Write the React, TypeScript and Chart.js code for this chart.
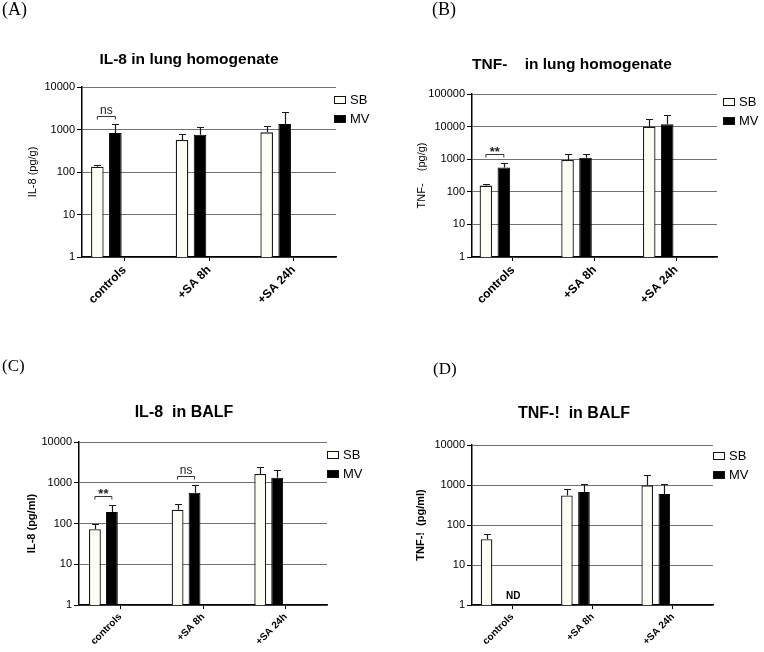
import React, { useEffect, useRef } from 'react';
import { Chart, registerables } from 'chart.js';

Chart.register(...registerables);

// ---------- data ----------
const categories = ['controls', '+SA 8h', '+SA 24h'];
const seriesNames = ['SB', 'MV'];

// (A) IL-8 in lung homogenate, pg/g
const lungIL8SB = [133, 566, 857];
const lungIL8SBUpper = [148, 771, 1190];
const lungIL8MV = [828, 755, 1349];
const lungIL8MVUpper = [1370, 1125, 2520];

// (B) TNF- in lung homogenate, pg/g
const lungTNFSB = [155, 945, 10000];
const lungTNFSBUpper = [172, 1440, 17260];
const lungTNFMV = [560, 1110, 11760];
const lungTNFMVUpper = [760, 1430, 22300];

// (C) IL-8 in BALF, pg/ml
const balfIL8SB = [72, 218, 1650];
const balfIL8SBUpper = [96, 300, 2400];
const balfIL8MV = [191, 566, 1320];
const balfIL8MVUpper = [279, 859, 2030];

// (D) TNF- in BALF, pg/ml (MV controls not detected)
const balfTNFSB = [44, 550, 980];
const balfTNFSBUpper = [58, 800, 1810];
const balfTNFMV = [null, 668, 596];
const balfTNFMVUpper = [null, 1035, 1060];

const yTicks4 = [1, 10, 100, 1000, 10000];
const yTicks5 = [1, 10, 100, 1000, 10000, 100000];

// significance annotations: category index, bracket level (data value), label
const bracketsA = [{ cat: 0, value: 2090, label: 'ns' }];
const bracketsB = [{ cat: 0, value: 1480, label: '**' }];
const bracketsC = [
  { cat: 0, value: 478, label: '**' },
  { cat: 1, value: 1475, label: 'ns' },
];
const bracketsD: { cat: number; value: number; label: string }[] = [];
const ndCatsD = [0];

const SANS = '"Liberation Sans", Arial, Helvetica, sans-serif';
const SERIF = '"Liberation Serif", "Times New Roman", serif';

type Bracket = { cat: number; value: number; label: string };
type PanelProps = {
  box: { left: number; top: number; width: number; height: number };
  plot: { left: number; right: number; top: number; bottom: number };
  yTicks: number[];
  sb: (number | null)[];
  sbUpper: (number | null)[];
  mv: (number | null)[];
  mvUpper: (number | null)[];
  yTitle: string;
  yTitleBold: boolean;
  yTitleX: number;
  xFont: number;
  cat: number;
  bar: number;
  legendDx: number;
  legendDy: number;
  brackets: Bracket[];
  ndCats: number[];
};

function Panel(p: PanelProps) {
  const ref = useRef<HTMLCanvasElement>(null);
  useEffect(() => {
    const canvas = ref.current!;
    const b = p.box;
    const pl = p.plot;
    const padTop = pl.top - b.top;
    const padRight = b.left + b.width - pl.right;
    const yWidth = pl.left - b.left;
    const xHeight = b.top + b.height - pl.bottom;
    const yTitleSize = 11;
    const yTitlePad = p.yTitleX - b.left - (yTitleSize * 1.2) / 2;

    const overlay = {
      id: 'overlay',
      afterDatasetsDraw(chart: any) {
        const ctx = chart.ctx;
        const ys = chart.scales.y;
        const xs = chart.scales.x;
        ctx.save();
        // error bars (upper only)
        const pairs: [(number | null)[], (number | null)[]][] = [
          [p.sb, p.sbUpper],
          [p.mv, p.mvUpper],
        ];
        pairs.forEach(([vals, ups], di) => {
          const meta = chart.getDatasetMeta(di);
          meta.data.forEach((el: any, j: number) => {
            const v = vals[j];
            const u = ups[j];
            if (v == null || u == null) return;
            const x = Math.round(el.x) + 0.5;
            const y0 = ys.getPixelForValue(v);
            const y1 = Math.round(ys.getPixelForValue(u)) + 0.5;
            ctx.strokeStyle = '#1a1a1a';
            ctx.lineWidth = 1.2;
            ctx.beginPath();
            ctx.moveTo(x, y0);
            ctx.lineTo(x, y1);
            ctx.moveTo(x - 3.5, y1);
            ctx.lineTo(x + 3.5, y1);
            ctx.stroke();
          });
        });
        // significance brackets
        p.brackets.forEach((bk) => {
          const x0 = chart.getDatasetMeta(0).data[bk.cat].x;
          const x1 = chart.getDatasetMeta(1).data[bk.cat].x;
          const y = Math.round(ys.getPixelForValue(bk.value)) + 0.5;
          ctx.strokeStyle = '#333';
          ctx.lineWidth = 1;
          ctx.beginPath();
          ctx.moveTo(x0, y + 3);
          ctx.lineTo(x0, y);
          ctx.lineTo(x1, y);
          ctx.lineTo(x1, y + 3);
          ctx.stroke();
          ctx.fillStyle = '#222';
          ctx.font = bk.label === '**' ? `bold 13px ${SANS}` : `12px ${SANS}`;
          ctx.textAlign = 'center';
          ctx.textBaseline = 'alphabetic';
          ctx.fillText(bk.label, (x0 + x1) / 2, bk.label === '**' ? y + 1 : y - 3);
        });
        // not detected
        p.ndCats.forEach((c) => {
          ctx.fillStyle = '#000';
          ctx.font = `bold 10px ${SANS}`;
          ctx.textAlign = 'center';
          ctx.textBaseline = 'middle';
          ctx.fillText('ND', xs.getPixelForValue(c) + 1, ys.bottom - 9);
        });
        // legend
        const lx = chart.chartArea.right + p.legendDx;
        const ly = chart.chartArea.top + p.legendDy;
        const fills = ['#fdfdf6', '#000'];
        seriesNames.forEach((name, i) => {
          const yy = Math.round(ly + i * 19);
          ctx.fillStyle = fills[i];
          ctx.fillRect(lx, yy, 12, 8);
          ctx.strokeStyle = '#111';
          ctx.lineWidth = 1;
          ctx.strokeRect(lx + 0.5, yy + 0.5, 11, 7);
          ctx.fillStyle = '#000';
          ctx.font = `13px ${SANS}`;
          ctx.textAlign = 'left';
          ctx.textBaseline = 'middle';
          ctx.fillText(name, lx + 16, yy + 4.5);
        });
        ctx.restore();
      },
    };

    const chart = new Chart(canvas, {
      type: 'bar',
      data: {
        labels: categories,
        datasets: [
          {
            label: seriesNames[0],
            data: p.sb,
            backgroundColor: '#fdfdf6',
            borderColor: '#1a1a1a',
            borderWidth: 1.3,
          },
          {
            label: seriesNames[1],
            data: p.mv,
            backgroundColor: '#000',
            borderColor: '#000',
            borderWidth: 1,
          },
          { label: '', data: categories.map(() => null) },
          { label: '', data: categories.map(() => null) },
        ],
      },
      options: {
        animation: false,
        responsive: false,
        devicePixelRatio: 1,
        layout: { padding: { top: padTop, right: padRight, left: 0, bottom: 0 } },
        plugins: {
          legend: { display: false },
          tooltip: { enabled: false },
          title: { display: false },
        },
        datasets: { bar: { categoryPercentage: p.cat, barPercentage: p.bar } },
        scales: {
          x: {
            grid: {
              display: true,
              drawOnChartArea: false,
              drawTicks: true,
              tickLength: 4,
              tickColor: '#000',
              offset: false,
            },
            border: { display: true, color: '#000', width: 1.5 },
            ticks: {
              autoSkip: false,
              maxRotation: 45,
              minRotation: 45,
              font: { family: SANS, size: p.xFont, weight: 'bold' },
              color: '#000',
              padding: 2,
            },
            afterFit: (s: any) => {
              s.height = xHeight;
            },
          },
          y: {
            type: 'logarithmic',
            min: p.yTicks[0],
            max: p.yTicks[p.yTicks.length - 1],
            afterBuildTicks: (s: any) => {
              s.ticks = p.yTicks.map((v) => ({ value: v }));
            },
            ticks: {
              callback: (v: any) => String(v),
              font: { family: SANS, size: 11 },
              color: '#000',
              padding: 2,
            },
            grid: {
              color: '#727272',
              lineWidth: 1,
              tickColor: '#000',
              tickLength: 5,
              drawTicks: true,
            },
            border: { color: '#000', width: 1.5 },
            title: {
              display: true,
              text: p.yTitle,
              font: { family: SANS, size: yTitleSize, weight: p.yTitleBold ? 'bold' : 'normal' },
              color: '#000',
              padding: { top: yTitlePad, bottom: 0 },
            },
            afterFit: (s: any) => {
              s.width = yWidth;
            },
          },
        },
      } as any,
      plugins: [overlay],
    });
    return () => chart.destroy();
  }, []);
  return (
    <canvas
      ref={ref}
      width={p.box.width}
      height={p.box.height}
      style={{
        position: 'absolute',
        left: p.box.left,
        top: p.box.top,
        width: p.box.width,
        height: p.box.height,
      }}
    />
  );
}

function Label(props: { text: string; left: number; top: number; size: number }) {
  return (
    <div
      style={{
        position: 'absolute',
        left: props.left,
        top: props.top,
        fontFamily: SERIF,
        fontSize: props.size,
        lineHeight: 1,
        color: '#000',
        whiteSpace: 'pre',
      }}
    >
      {props.text}
    </div>
  );
}

function Title(props: { text: string; cx: number; cy: number; size: number }) {
  return (
    <div
      style={{
        position: 'absolute',
        left: props.cx - 160,
        width: 320,
        top: props.cy - props.size / 2,
        textAlign: 'center',
        fontFamily: SANS,
        fontWeight: 'bold',
        fontSize: props.size,
        lineHeight: 1,
        color: '#000',
        whiteSpace: 'pre',
      }}
    >
      {props.text}
    </div>
  );
}

export default function App() {
  return (
    <div
      style={{
        position: 'absolute',
        left: 0,
        top: 0,
        width: 764,
        height: 652,
        background: '#fff',
        overflow: 'hidden',
      }}
    >
      <Panel
        box={{ left: 0, top: 0, width: 382, height: 326 }}
        plot={{ left: 82, right: 336, top: 87, bottom: 257 }}
        yTicks={yTicks4}
        sb={lungIL8SB}
        sbUpper={lungIL8SBUpper}
        mv={lungIL8MV}
        mvUpper={lungIL8MVUpper}
        yTitle="IL-8 (pg/g)"
        yTitleBold={false}
        yTitleX={33}
        xFont={12}
        cat={0.85}
        bar={0.7}
        legendDx={-2}
        legendDy={9}
        brackets={bracketsA}
        ndCats={[]}
      />
      <Panel
        box={{ left: 382, top: 0, width: 382, height: 326 }}
        plot={{ left: 472, right: 717, top: 94, bottom: 257 }}
        yTicks={yTicks5}
        sb={lungTNFSB}
        sbUpper={lungTNFSBUpper}
        mv={lungTNFMV}
        mvUpper={lungTNFMVUpper}
        yTitle="TNF-    (pg/g)"
        yTitleBold={false}
        yTitleX={422}
        xFont={12}
        cat={0.88}
        bar={0.7}
        legendDx={6}
        legendDy={4}
        brackets={bracketsB}
        ndCats={[]}
      />
      <Panel
        box={{ left: 0, top: 326, width: 382, height: 326 }}
        plot={{ left: 79, right: 327, top: 442, bottom: 605 }}
        yTicks={yTicks4}
        sb={balfIL8SB}
        sbUpper={balfIL8SBUpper}
        mv={balfIL8MV}
        mvUpper={balfIL8MVUpper}
        yTitle="IL-8 (pg/ml)"
        yTitleBold={true}
        yTitleX={32}
        xFont={10}
        cat={0.82}
        bar={0.7}
        legendDx={0}
        legendDy={9}
        brackets={bracketsC}
        ndCats={[]}
      />
      <Panel
        box={{ left: 382, top: 326, width: 382, height: 326 }}
        plot={{ left: 472, right: 713, top: 445, bottom: 605 }}
        yTicks={yTicks4}
        sb={balfTNFSB}
        sbUpper={balfTNFSBUpper}
        mv={balfTNFMV}
        mvUpper={balfTNFMVUpper}
        yTitle="TNF-!  (pg/ml)"
        yTitleBold={true}
        yTitleX={421}
        xFont={10}
        cat={0.85}
        bar={0.68}
        legendDx={0}
        legendDy={7}
        brackets={bracketsD}
        ndCats={ndCatsD}
      />
      <Label text="(A)" left={2} top={0} size={18} />
      <Label text="(B)" left={432} top={0} size={18} />
      <Label text="(C)" left={2} top={357} size={17} />
      <Label text="(D)" left={433} top={360} size={17} />
      <Title text="IL-8 in lung homogenate" cx={189} cy={58.5} size={15.5} />
      <Title text="TNF-    in lung homogenate" cx={572} cy={63.3} size={15.5} />
      <Title text="IL-8  in BALF" cx={184} cy={411.7} size={16} />
      <Title text="TNF-!  in BALF" cx={574} cy={412.8} size={16} />
    </div>
  );
}
